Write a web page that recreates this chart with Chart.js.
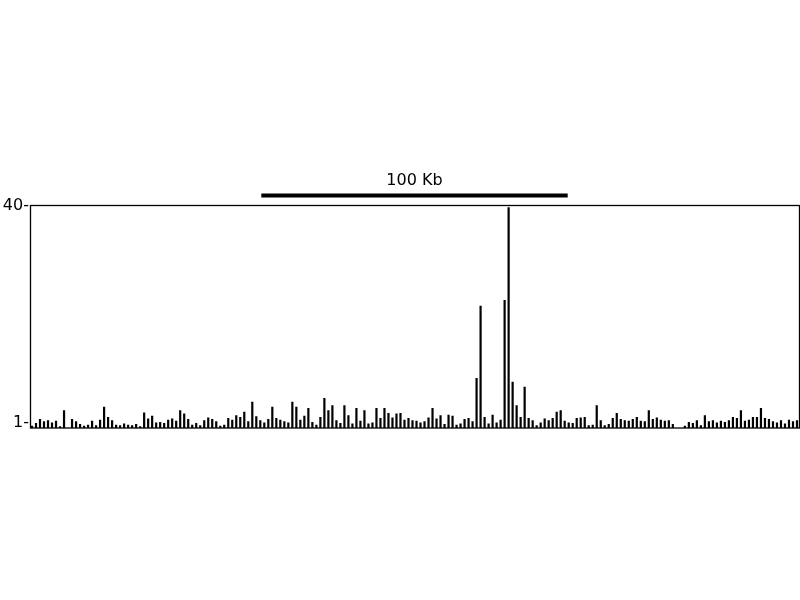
<!DOCTYPE html>
<html>
<head>
<meta charset="utf-8">
<script src="https://cdn.jsdelivr.net/npm/chart.js@4"></script>
<style>
  html, body { margin: 0; padding: 0; background: #fff; }
  #wrap { width: 800px; height: 600px; }
</style>
</head>
<body>
<div id="wrap"><canvas id="track" width="800" height="600"></canvas></div>
<script>
// signal per genomic bin (left to right)
const signal = [
  0.4, 0.9, 1.6, 1.2, 1.4, 1.0, 1.3, 0.3, 3.2, 0.0,
  1.6, 1.2, 0.7, 0.4, 0.6, 1.3, 0.5, 1.5, 3.8, 2.0,
  1.4, 0.6, 0.5, 0.8, 0.6, 0.5, 0.7, 0.3, 2.8, 1.7,
  2.2, 1.0, 1.1, 0.9, 1.5, 1.7, 1.3, 3.2, 2.6, 1.6,
  0.6, 0.9, 0.5, 1.4, 1.9, 1.6, 1.2, 0.4, 0.6, 1.8,
  1.5, 2.3, 2.0, 2.9, 1.2, 4.7, 2.1, 1.4, 1.0, 1.6,
  3.8, 1.8, 1.5, 1.2, 1.0, 4.7, 3.8, 1.5, 2.2, 3.6,
  1.1, 0.6, 2.0, 5.4, 3.2, 4.1, 1.4, 0.9, 4.1, 2.3,
  0.8, 3.6, 1.3, 3.2, 0.8, 1.0, 3.6, 1.8, 3.6, 2.7,
  1.9, 2.6, 2.7, 1.5, 1.8, 1.4, 1.3, 1.0, 1.2, 1.9,
  3.6, 1.7, 2.3, 0.7, 2.4, 2.2, 0.6, 0.8, 1.6, 1.8,
  1.2, 9.0, 22.0, 2.0, 0.8, 2.4, 1.0, 1.5, 23.0, 39.7,
  8.3, 4.1, 2.0, 7.4, 1.8, 1.4, 0.5, 1.0, 1.7, 1.4,
  1.8, 2.9, 3.2, 1.3, 1.0, 0.9, 1.8, 1.9, 2.0, 0.5,
  0.6, 4.1, 1.4, 0.5, 0.7, 1.8, 2.7, 1.6, 1.4, 1.3,
  1.6, 2.0, 1.3, 1.2, 3.2, 1.6, 1.9, 1.5, 1.3, 1.4,
  0.7, 0.0, 0.0, 0.4, 1.1, 0.9, 1.4, 0.5, 2.3, 1.2,
  1.4, 1.0, 1.3, 1.1, 1.4, 2.0, 1.8, 3.2, 1.3, 1.5,
  2.0, 2.0, 3.6, 1.8, 1.6, 1.2, 1.0, 1.4, 0.8, 1.5,
  1.2, 1.4
];
const bins = signal.map((_, i) => "bin" + (i + 1));

const Y_TICKS = [1, 40];
const Y_MAX = 40;

// 100 Kb scale bar, given in bin units
const scaleBarLabel = "100 Kb";
const scaleBarFrom = 57.25;
const scaleBarTo = 133.75;

const FONT = "'DejaVu Sans', sans-serif";

const trackFrame = {
  id: "trackFrame",
  afterDraw(chart) {
    const { ctx, chartArea: a, scales } = chart;
    ctx.save();
    ctx.strokeStyle = "#000";
    ctx.lineWidth = 1.3;
    ctx.strokeRect(a.left + 0.5, a.top, a.right - a.left, a.bottom - a.top);

    const x0 = scales.x.getPixelForValue(scaleBarFrom);
    const x1 = scales.x.getPixelForValue(scaleBarTo);
    ctx.lineWidth = 4;
    ctx.beginPath();
    ctx.moveTo(x0, a.top - 10);
    ctx.lineTo(x1, a.top - 10);
    ctx.stroke();

    ctx.fillStyle = "#000";
    ctx.font = "16px " + FONT;
    ctx.textAlign = "center";
    ctx.textBaseline = "alphabetic";
    ctx.fillText(scaleBarLabel, (x0 + x1) / 2, a.top - 21);
    ctx.restore();
  },
};

new Chart(document.getElementById("track"), {
  type: "bar",
  data: {
    labels: bins,
    datasets: [{
      data: signal,
      backgroundColor: "#000",
      borderWidth: 0,
      barPercentage: 0.55,
      categoryPercentage: 1.0,
    }],
  },
  options: {
    responsive: false,
    animation: false,
    layout: { padding: { top: 205.5, bottom: 172, left: 0, right: 1 } },
    plugins: { legend: { display: false }, tooltip: { enabled: false } },
    scales: {
      x: { display: false },
      y: {
        min: 0,
        max: Y_MAX,
        afterBuildTicks: (scale) => {
          scale.ticks = Y_TICKS.map((v) => ({ value: v }));
        },
        afterFit: (scale) => { scale.width = 30; },
        grid: { display: false, drawTicks: false },
        border: { display: false },
        ticks: {
          padding: 1,
          color: "#000",
          font: { family: FONT, size: 16 },
          callback: (v) => v + "-",
        },
      },
    },
  },
  plugins: [trackFrame],
});
</script>
</body>
</html>
